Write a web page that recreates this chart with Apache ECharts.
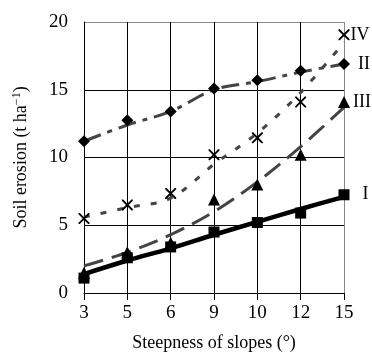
<!DOCTYPE html>
<html>
<head>
<meta charset="utf-8">
<script src="https://cdn.jsdelivr.net/npm/echarts@6/dist/echarts.min.js"></script>
<style>
  html, body { margin: 0; padding: 0; background: #fff; }
  #chart { width: 372px; height: 357px; }
</style>
</head>
<body>
<div id="chart"></div>
<script>
// slope categories (degrees)
var slopes = ["3", "5", "6", "9", "10", "12", "15"];
var yTicks = [0, 5, 10, 15, 20];

// measured points
var obsI = [1.1, 2.6, 3.4, 4.5, 5.2, 5.9, 7.25];
var obsII = [11.2, 12.75, 13.4, 15.1, 15.7, 16.4, 16.9];
var obsIII = [1.5, 3.0, 3.7, 6.9, 8.0, 10.2, 14.1];
var obsIV = [5.5, 6.5, 7.35, 10.2, 11.45, 14.1, 19.05];

// trend lines
var fitI = [1.4, 2.4, 3.3, 4.3, 5.25, 6.2, 7.1];
var fitII = [11.2, 12.4, 13.4, 15.0, 15.6, 16.3, 16.9];
var fitIII = [2.0, 3.0, 4.3, 6.0, 8.2, 10.8, 13.7];
var fitIV = [5.6, 6.3, 7.0, 9.5, 11.8, 14.8, 18.5];

var serif = "'Liberation Serif', 'Times New Roman', serif";
var crossPath = "path://M0,0L1.2,0L10,8.8L10,10L8.8,10L0,1.2Z M8.8,0L10,0L10,1.2L1.2,10L0,10L0,8.8Z";

function fitLine(name, data, width, color, dash) {
  return {
    name: name,
    type: "line",
    data: data,
    smooth: 0.35,
    symbol: "none",
    z: 2,
    lineStyle: { color: color, width: width, type: dash },
    silent: true
  };
}

function points(name, data, symbol, size, labelDist) {
  return {
    name: name + " pts",
    type: "scatter",
    data: data,
    symbol: symbol,
    symbolSize: size,
    z: 5,
    itemStyle: { color: "#000", opacity: 1 },
    label: {
      show: true,
      position: "right",
      distance: labelDist,
      color: "#000",
      fontFamily: serif,
      fontSize: 18,
      formatter: function (p) {
        return p.dataIndex === slopes.length - 1 ? name : "";
      }
    }
  };
}

var chart = echarts.init(document.getElementById("chart"));
chart.setOption({
  animation: false,
  grid: { left: 84, right: 28, top: 22, bottom: 59 },
  xAxis: {
    type: "category",
    data: slopes,
    boundaryGap: false,
    name: "Steepness of slopes (°)",
    nameLocation: "middle",
    nameGap: 41,
    nameTextStyle: { color: "#000", fontFamily: serif, fontSize: 18 },
    axisLine: { show: true, lineStyle: { color: "#000", width: 1 } },
    axisTick: { show: true, length: 7, lineStyle: { color: "#000" } },
    axisLabel: { color: "#000", fontFamily: serif, fontSize: 19, margin: 11 },
    splitLine: {
      show: true,
      lineStyle: { color: ["#000", "#000", "#000", "#000", "#000", "#000", "#888"], width: 1 }
    }
  },
  yAxis: {
    type: "value",
    min: yTicks[0],
    max: yTicks[yTicks.length - 1],
    interval: 5,
    name: "Soil erosion (t ha{sup|−1})",
    nameLocation: "middle",
    nameGap: 52,
    nameRotate: 90,
    nameTextStyle: {
      color: "#000",
      fontFamily: serif,
      fontSize: 18,
      rich: {
        sup: { fontFamily: serif, fontSize: 12, verticalAlign: "top", padding: [0, 0, 9, 0], color: "#000" }
      }
    },
    axisLine: { show: true, lineStyle: { color: "#000", width: 1 } },
    axisTick: { show: false },
    axisLabel: { color: "#000", fontFamily: serif, fontSize: 19, margin: 16 },
    splitLine: {
      show: true,
      lineStyle: { color: ["#000", "#000", "#000", "#000", "#888"], width: 1 }
    }
  },
  series: [
    fitLine("I", fitI, 4.5, "#000", "solid"),
    fitLine("II", fitII, 3, "#444", [18, 7, 5, 7]),
    fitLine("III", fitIII, 3, "#444", [20, 9]),
    fitLine("IV", fitIV, 3, "#444", [6, 11]),
    points("I", obsI, "rect", 11, 13),
    points("II", obsII, "diamond", 12, 8),
    points("III", obsIII, "triangle", 12, 3),
    points("IV", obsIV, crossPath, 11, 1)
  ]
});
</script>
</body>
</html>
